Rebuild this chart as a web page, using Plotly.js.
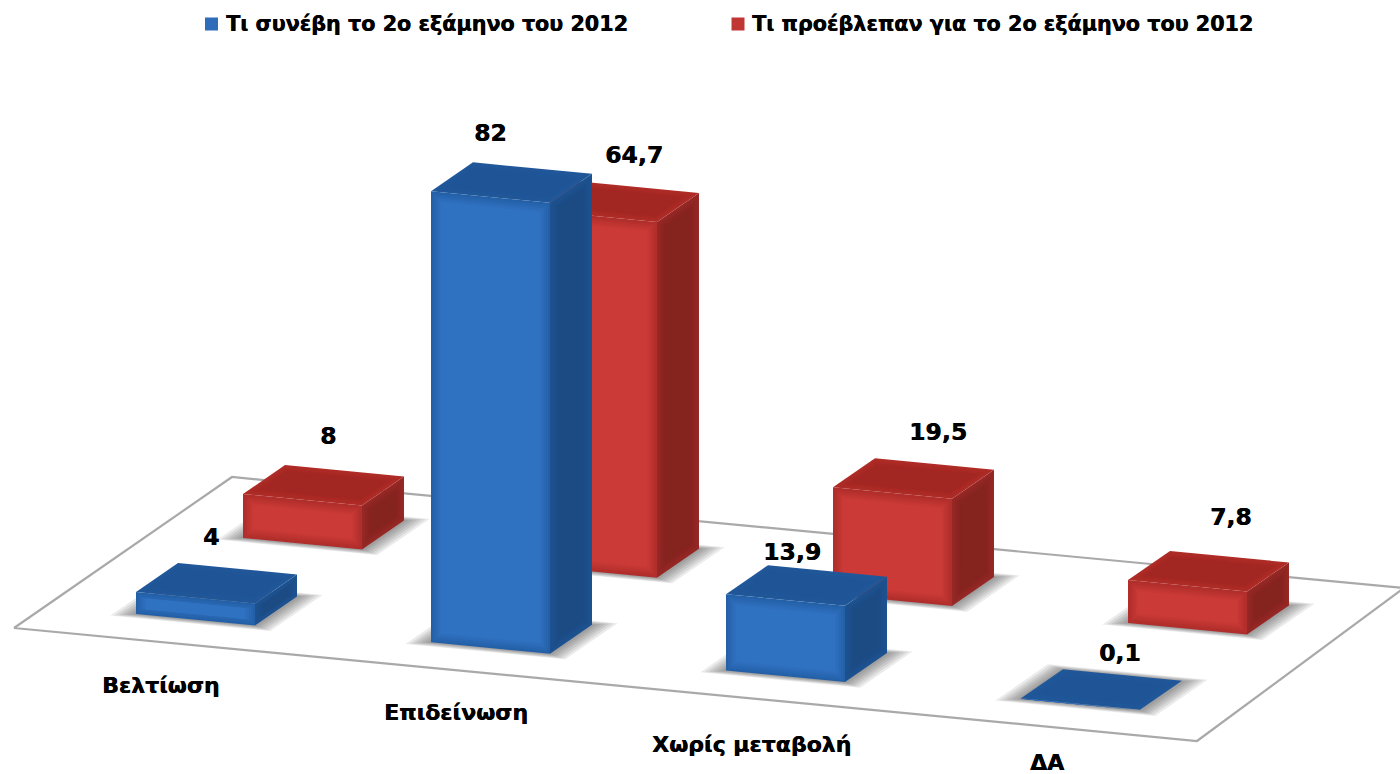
<!DOCTYPE html>
<html>
<head>
<meta charset="utf-8">
<script src="https://cdn.plot.ly/plotly-3.0.1.min.js"></script>
<style>html,body{margin:0;padding:0;background:#fff}#c{width:1400px;height:774px}</style>
</head>
<body>
<div id="c"></div>
<script>
// ---------- data ----------
const categories = ['Βελτίωση', 'Επιδείνωση', 'Χωρίς μεταβολή', 'ΔΑ'];
const seriesNames = ['Τι συνέβη το 2ο εξάμηνο του 2012', 'Τι προέβλεπαν για το 2ο εξάμηνο του 2012'];
const actual = [4, 82, 13.9, 0.1];
const expected = [8, 64.7, 19.5, 7.8];
const actualLabels = ['4', '82', '13,9', '0,1'];
const expectedLabels = ['8', '64,7', '19,5', '7,8'];

// ---------- oblique projection of the 3D chart box ----------
const ORIGIN = [136, 614], CAT = [295, 28.3], SER = [107, -76], U = [119, 11.5], V = [42, -29], UNIT = 5.5;
function P(c, s, u, v, h) {
  return [ORIGIN[0] + CAT[0]*c + SER[0]*s + U[0]*u + V[0]*v,
          ORIGIN[1] + CAT[1]*c + SER[1]*s + U[1]*u + V[1]*v - UNIT*h];
}
// ---------- style ----------
const PAL = [
  {front:[[36,96,168],[48,114,194]], top:[[33,88,154],[31,85,150]], right:[[29,82,145],[28,75,132]]},
  {front:[[176,46,43],[203,58,54]], top:[[176,44,39],[162,38,34]], right:[[150,40,37],[133,35,31]]}
];
const STEPS = 6, STEP_PX = 2;
function mix(pair, t) {
  const m = [0,1,2].map(i => Math.round(pair[0][i] + (pair[1][i]-pair[0][i])*t));
  return 'rgb(' + m.join(',') + ')';
}
const floorX = [14, 232, 1404, 1197], floorY = [628, 477, 588, 741];
const labelOff = [
  [[75,-55],[59,-58],[66,-42],[99,-45]],
  [[85,-58],[96,-55],[105,-55],[103,-63]]
];
const catLabelPos = [[160,685],[456,712],[751,744],[1047,762]];

const traces = [];
function poly(pts, color) {
  const xs = pts.map(p => p[0]).concat(pts[0][0]);
  const ys = pts.map(p => p[1]).concat(pts[0][1]);
  traces.push({type:'scatter', mode:'lines', x:xs, y:ys, fill:'toself', fillcolor:color,
    line:{width:0, color:color}, hoverinfo:'skip', showlegend:false});
}
// floor
traces.push({type:'scatter', mode:'lines', x:floorX.concat(floorX[0]), y:floorY.concat(floorY[0]),
  fill:'toself', fillcolor:'#ffffff', line:{color:'#a9a9a9', width:2.2}, hoverinfo:'skip', showlegend:false});

const all = [actual, expected];
// shadows
all.forEach((vals, s) => vals.forEach((val, c) => {
  for (let k = 6; k >= 1; k--) {
    const ex = k*3.4/119, ey = k*1.05/51;
    poly([P(c,s,-ex,-ey,0), P(c,s,1+ex,-ey,0), P(c,s,1+ex,1+ey,0), P(c,s,-ex,1+ey,0)], 'rgba(60,60,60,0.1)');
  }
}));
// bars: back row first
[1, 0].forEach(s => all[s].forEach((val, c) => {
  const pal = PAL[s];
  for (let n = 0; n < STEPS; n++) {
    const i = n*STEP_PX, t = n/(STEPS-1);
    const dv = i/51, dh = Math.min(i, val*UNIT*0.25)/UNIT;
    poly([P(c,s,1,dv,dh), P(c,s,1,1-dv,dh), P(c,s,1,1-dv,val-dh), P(c,s,1,dv,val-dh)], mix(pal.right, t));
  }
  for (let n = 0; n < STEPS; n++) {
    const i = n*STEP_PX, t = n/(STEPS-1);
    const du = i/119, dv = i/51;
    poly([P(c,s,du,dv,val), P(c,s,1-du,dv,val), P(c,s,1-du,1-dv,val), P(c,s,du,1-dv,val)], mix(pal.top, t));
  }
  for (let n = 0; n < STEPS; n++) {
    const i = n*STEP_PX, t = n/(STEPS-1);
    const du = i/119, dh = Math.min(i, val*UNIT*0.25)/UNIT;
    poly([P(c,s,du,0,dh), P(c,s,1-du,0,dh), P(c,s,1-du,0,val-dh), P(c,s,du,0,val-dh)], mix(pal.front, t));
  }
}));
// legend swatches
traces.push({type:'scatter', mode:'markers', x:[211.5, 738], y:[24, 24],
  marker:{symbol:'square', size:13, color:['#2f6dba','#c03633']}, hoverinfo:'skip', showlegend:false});

const FONT = 'DejaVu Sans, Verdana, sans-serif';
const ann = [];
function text(t, x, y, size, anchor) {
  ann.push({text:'<b>'+t+'</b>', x:x, y:y, xref:'x', yref:'y', showarrow:false, xanchor:anchor||'center', yanchor:'middle',
    font:{family:FONT, size:size, color:'#000', shadow:'0.5px 0 0 #000'}});
}
text(seriesNames[0], 224, 24, 20.7, 'left');
text(seriesNames[1], 750, 24, 20.7, 'left');
categories.forEach((t, c) => text(t, catLabelPos[c][0], catLabelPos[c][1], 22));
[actualLabels, expectedLabels].forEach((labs, s) => labs.forEach((t, c) => {
  const p = P(c, s, 0, 0, all[s][c]);
  text(t, p[0] + labelOff[s][c][0], p[1] + labelOff[s][c][1], 23.5);
}));

Plotly.newPlot('c', traces, {
  width:1400, height:774, margin:{l:0,r:0,t:0,b:0}, paper_bgcolor:'#fff', plot_bgcolor:'#fff', showlegend:false,
  xaxis:{range:[0,1400], visible:false, fixedrange:true},
  yaxis:{range:[774,0], visible:false, fixedrange:true},
  annotations:ann
}, {displayModeBar:false, staticPlot:true});
</script>
</body>
</html>
